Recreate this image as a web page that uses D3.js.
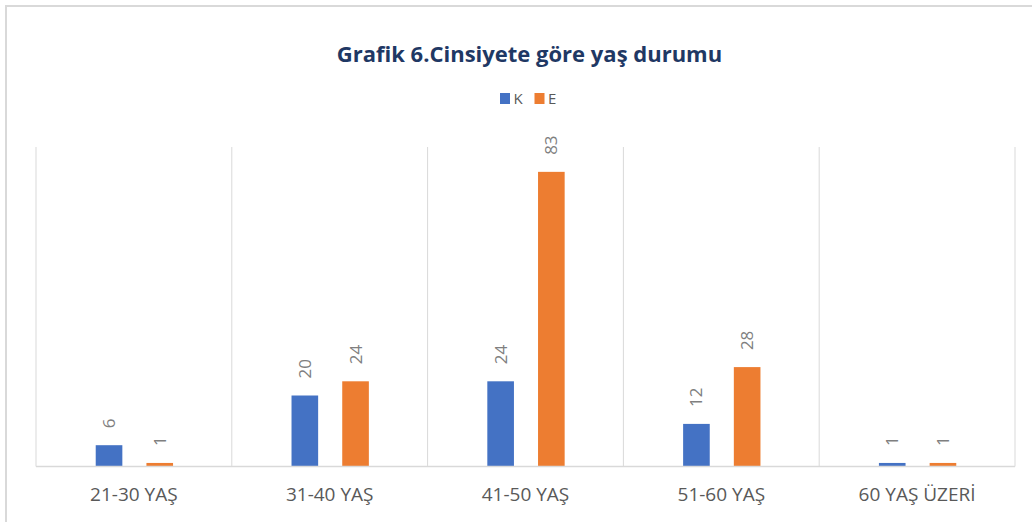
<!DOCTYPE html>
<html>
<head>
<meta charset="utf-8">
<script src="https://cdn.jsdelivr.net/npm/d3@7"></script>
<style>
  body { margin: 0; background: #fff; }
  svg { display: block; font-family: "Open Sans", "DejaVu Sans", sans-serif; }
</style>
</head>
<body>
<svg id="chart"></svg>
<script>
const categories = ["21-30 YAŞ", "31-40 YAŞ", "41-50 YAŞ", "51-60 YAŞ", "60 YAŞ ÜZERİ"];
const seriesNames = ["K", "E"];
const kValues = [6, 20, 24, 12, 1];
const eValues = [1, 24, 83, 28, 1];
const colors = ["#4472C4", "#ED7D31"];
const titleText = "Grafik 6.Cinsiyete göre yaş durumu";

const width = 1032;
const height = 522;
const plot = { left: 36, right: 1015, top: 147, bottom: 466.5 };

const svg = d3.select("#chart")
    .attr("width", width)
    .attr("height", height);

// outer chart border (runs off the right/bottom edges)
svg.append("rect")
    .attr("x", 6).attr("y", 6)
    .attr("width", 1100).attr("height", 600)
    .attr("fill", "none")
    .attr("stroke", "#d9d9d9")
    .attr("stroke-width", 2);

svg.append("text")
    .attr("x", 529.5).attr("y", 61.5)
    .attr("text-anchor", "middle")
    .attr("font-size", 22)
    .attr("font-weight", "bold")
    .attr("fill", "#1F3864")
    .text(titleText);

// legend
const legend = svg.append("g");
const legendX = [500, 534.5];
seriesNames.forEach((name, i) => {
    legend.append("rect")
        .attr("x", legendX[i]).attr("y", 93)
        .attr("width", 10).attr("height", 11)
        .attr("fill", colors[i]);
    legend.append("text")
        .attr("x", legendX[i] + 13.5).attr("y", 104.3)
        .attr("font-size", 15)
        .attr("fill", "#595959")
        .text(name);
});

const x0 = d3.scaleBand()
    .domain(categories)
    .range([plot.left, plot.right])
    .padding(0);

const bw = x0.bandwidth();
const x1 = d3.scaleBand()
    .domain(seriesNames)
    .range([bw * 0.305, bw * 0.70])
    .paddingInner(0.475)
    .paddingOuter(0);

const y = d3.scaleLinear()
    .domain([0, 90])
    .range([plot.bottom, plot.top]);

// vertical separators between categories
const bounds = categories.map(c => x0(c)).concat([plot.right]);
svg.append("g")
    .selectAll("line")
    .data(bounds)
    .join("line")
    .attr("x1", d => d).attr("x2", d => d)
    .attr("y1", plot.top).attr("y2", plot.bottom)
    .attr("stroke", "#d9d9d9")
    .attr("stroke-width", 1);

const rows = categories.map((c, i) => ({
    cat: c,
    vals: [{ s: "K", v: kValues[i], c: colors[0] }, { s: "E", v: eValues[i], c: colors[1] }]
}));

const groups = svg.append("g")
    .selectAll("g")
    .data(rows)
    .join("g")
    .attr("transform", d => `translate(${x0(d.cat)},0)`);

groups.selectAll("rect")
    .data(d => d.vals)
    .join("rect")
    .attr("x", d => x1(d.s))
    .attr("y", d => y(d.v))
    .attr("width", x1.bandwidth())
    .attr("height", d => y(0) - y(d.v))
    .attr("fill", d => d.c);

groups.selectAll("text")
    .data(d => d.vals)
    .join("text")
    .attr("transform", d => `translate(${x1(d.s) + x1.bandwidth() / 2},${y(d.v) - 17}) rotate(-90)`)
    .attr("dy", "0.35em")
    .attr("font-size", 17)
    .attr("fill", "#7f7f7f")
    .text(d => d.v);

// baseline
svg.append("line")
    .attr("x1", plot.left).attr("x2", plot.right)
    .attr("y1", plot.bottom).attr("y2", plot.bottom)
    .attr("stroke", "#d9d9d9")
    .attr("stroke-width", 1.5);

// category labels
const xAxis = svg.append("g")
    .attr("transform", `translate(0,${plot.bottom})`)
    .call(d3.axisBottom(x0).tickSize(0).tickPadding(0));
xAxis.select(".domain").remove();
xAxis.selectAll("text")
    .attr("y", 34.5)
    .attr("dy", 0)
    .attr("font-size", 19)
    .attr("font-family", "\"Open Sans\", sans-serif")
    .attr("fill", "#595959");
</script>
</body>
</html>
